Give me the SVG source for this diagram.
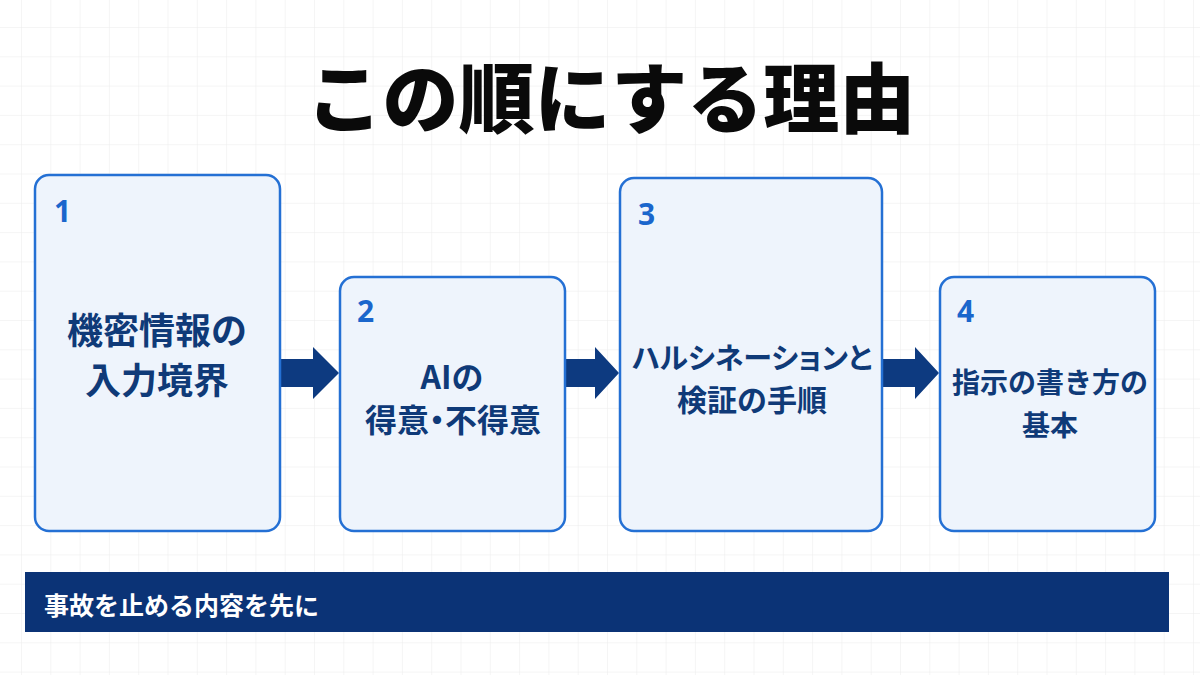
<svg xmlns="http://www.w3.org/2000/svg" width="1200" height="675" viewBox="0 0 1200 675">
<style>
.box{fill:#eef4fc;stroke:#2470d4;stroke-width:2.5}
.num{font-family:"Noto Sans","Noto Sans CJK JP",sans-serif;font-weight:700;font-size:30px;fill:#1a66cc}
.lbl{font-family:"Noto Sans CJK JP",sans-serif;font-weight:700;fill:#0f3a78;text-anchor:middle;dominant-baseline:central}
.arrow{fill:#0d3a80}
</style>
<defs>
<pattern id="grid" width="29.3" height="29.3" patternUnits="userSpaceOnUse" x="21" y="27">
<path d="M0 0H29.3M0 0V29.3" fill="none" stroke="#ececec" stroke-width="1"/>
</pattern>
</defs>
<rect width="1200" height="675" fill="#ffffff"/>
<rect width="1200" height="675" fill="url(#grid)"/>
<text id="title" x="611" y="94" font-family="Noto Sans CJK JP, sans-serif" font-weight="900" font-size="76" fill="#0a0a0a" text-anchor="middle" dominant-baseline="central">この順にする理由</text>
<g id="connectors">
<polygon class="arrow" points="280,359 313,359 313,347 339,373 313,399 313,387 280,387"/>
<polygon class="arrow" points="563,359 595,359 595,347 619,373 595,399 595,387 563,387"/>
<polygon class="arrow" points="882,359 915,359 915,347 939,373 915,399 915,387 882,387"/>
</g>
<g id="node1">
<rect class="box" x="35" y="175" width="245" height="356" rx="14"/>
<text class="num" x="54" y="222">1</text>
<text class="lbl" x="157" y="328" font-size="36">機密情報の</text>
<text class="lbl" x="157" y="378" font-size="36">入力境界</text>
</g>
<g id="node2">
<rect class="box" x="340" y="277" width="225" height="254" rx="14"/>
<text class="num" x="357" y="322">2</text>
<text class="lbl" x="452" y="375" font-size="32">AIの</text>
<text class="lbl" x="453" y="418" font-size="32" style="font-feature-settings:'palt'">得意・不得意</text>
</g>
<g id="node3">
<rect class="box" x="620" y="178" width="262" height="353" rx="14"/>
<text class="num" x="638" y="225">3</text>
<text class="lbl" x="752" y="356" font-size="29" style="font-feature-settings:'palt'">ハルシネーションと</text>
<text class="lbl" x="752" y="398" font-size="30">検証の手順</text>
</g>
<g id="node4">
<rect class="box" x="940" y="277" width="215" height="254" rx="14"/>
<text class="num" x="957" y="322">4</text>
<text class="lbl" x="1050" y="381" font-size="28">指示の書き方の</text>
<text class="lbl" x="1050" y="424" font-size="28">基本</text>
</g>
<g id="banner">
<rect x="25" y="572" width="1144" height="60" fill="#0b3376"/>
<text x="44" y="604" font-family="Noto Sans CJK JP, sans-serif" font-weight="700" font-size="25" fill="#ffffff" dominant-baseline="central">事故を止める内容を先に</text>
</g>
</svg>
